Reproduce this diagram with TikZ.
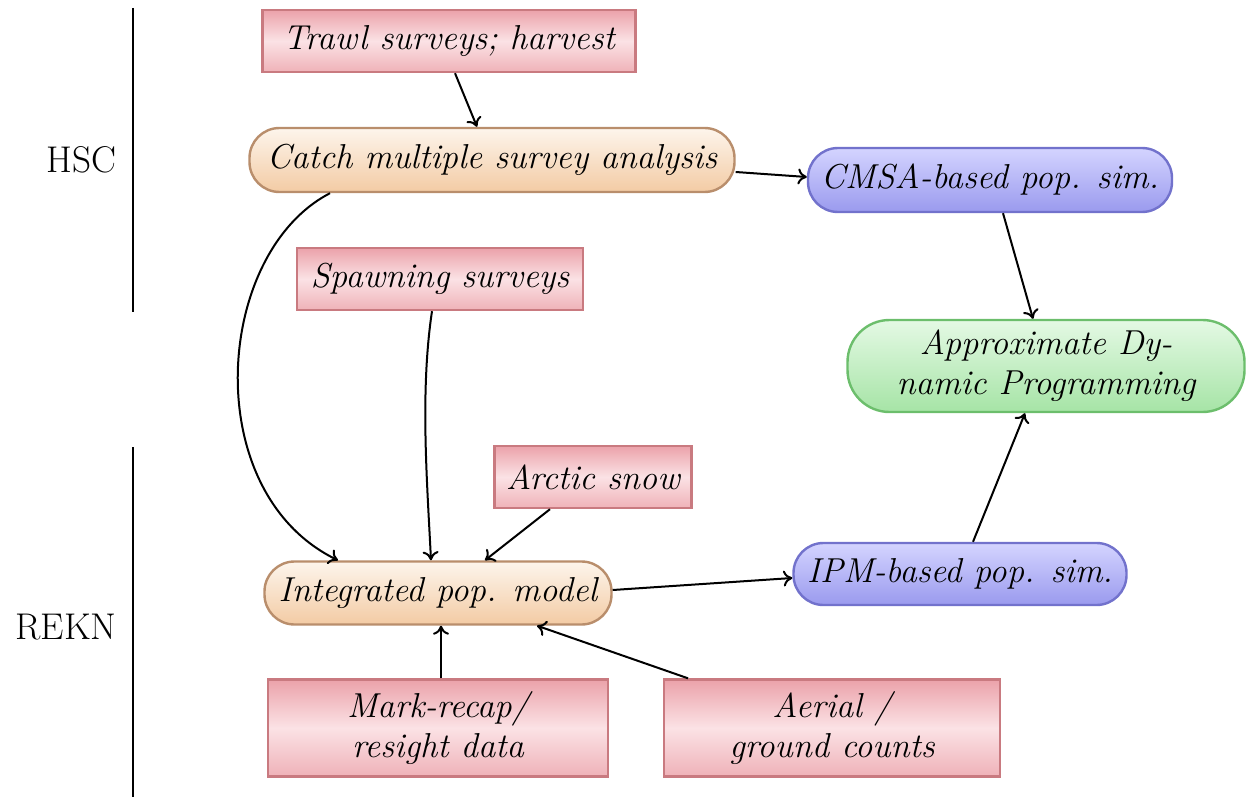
\documentclass[tikz,border=0pt]{standalone}
\usetikzlibrary{arrows.meta,shapes.misc}
\definecolor{redB}{HTML}{C97A80}
\definecolor{redT}{HTML}{EBA2AA}
\definecolor{redM}{HTML}{FBE2E5}
\definecolor{redL}{HTML}{EFB2B8}
\definecolor{orB}{HTML}{B98E6C}
\definecolor{orT}{HTML}{FDF5EC}
\definecolor{orL}{HTML}{F3CBA4}
\definecolor{blB}{HTML}{7272CC}
\definecolor{blT}{HTML}{D4D4FF}
\definecolor{blL}{HTML}{9A9AEE}
\definecolor{grB}{HTML}{6CBE6C}
\definecolor{grT}{HTML}{E4F9E4}
\definecolor{grL}{HTML}{A6E4A6}
\tikzset{
  every node/.style={font=\fontsize{17.3}{20}\selectfont\itshape, inner sep=0pt, align=center},
  databox/.style={rectangle, draw=redB, line width=1.2pt, top color=redT, bottom color=redL, middle color=redM},
  modelbox/.style={rectangle, rounded corners=15pt, draw=orB, line width=1.2pt, top color=orT, bottom color=orL},
  simbox/.style={rectangle, rounded corners=15pt, draw=blB, line width=1.2pt, top color=blT, bottom color=blL},
  adpbox/.style={rectangle, rounded corners=21pt, draw=grB, line width=1.2pt, top color=grT, bottom color=grL},
  grp/.style={font=\fontsize{18.6}{22}\selectfont\upshape, anchor=east},
  arr/.style={-{To[length=4.5pt,width=8pt]}, line width=1pt},
  sep/.style={line width=1.2pt}
}
\begin{document}
\begin{tikzpicture}[x=0.5pt,y=-0.5pt]
\useasboundingbox (0,0) rectangle (1247,797);
\node[databox, minimum width=186.5pt, minimum height=31pt] (trawl) at (449,41) {Trawl surveys; harvest};
\node[modelbox, minimum width=242.5pt, minimum height=32pt] (catch) at (492,160) {Catch multiple survey analysis};
\node[simbox, minimum width=182pt, minimum height=32pt] (cmsa) at (990,180) {CMSA-based pop. sim.};
\node[databox, minimum width=143pt, minimum height=31pt] (spawn) at (440,279) {Spawning surveys};
\node[adpbox, minimum width=198.5pt, minimum height=46pt] (adp) at (1046,366) {Approximate Dy-\\namic Programming};
\node[databox, minimum width=98.5pt, minimum height=31pt] (arctic) at (593,477) {Arctic snow};
\node[modelbox, minimum width=173.5pt, minimum height=31.5pt] (integ) at (438,593) {Integrated pop. model};
\node[simbox, minimum width=166.5pt, minimum height=31pt] (ipmsim) at (960,574) {IPM-based pop. sim.};
\node[databox, minimum width=170pt, minimum height=48.5pt] (mark) at (438,728) {Mark-recap/\\resight data};
\node[databox, minimum width=168pt, minimum height=48.5pt] (aerial) at (832,728) {Aerial /\\ground counts};

\node[grp] (hsc) at (117,160) {HSC};
\node[grp] (rekn) at (117,627) {REKN};
\coordinate (h1) at (133,8);
\coordinate (h2) at (133,312);
\coordinate (r1) at (133,447);
\coordinate (r2) at (133,797);
\draw[sep] (h1) -- (h2);
\draw[sep] (r1) -- (r2);

\draw[arr] ([xshift=3pt]trawl.south) -- ([xshift=-7.5pt]catch.north);
\draw[arr] ([yshift=-6pt]catch.east) -- ([yshift=1.5pt]cmsa.west);
\draw[arr] ([xshift=6.5pt]cmsa.south) -- ([xshift=-6.5pt]adp.north);
\draw[arr] ([xshift=6.5pt]ipmsim.north) -- ([xshift=-10.5pt]adp.south);
\draw[arr] ([yshift=1.5pt]integ.east) -- ([yshift=-2pt]ipmsim.west);
\draw[arr] ([xshift=-81pt]catch.south) .. controls +(-58pt,-30pt) and +(-70pt,34pt) .. ([xshift=-50pt]integ.north);
\draw[arr] ([xshift=-4pt]spawn.south) .. controls +(-6pt,-40pt) and +(-2pt,40pt) .. ([xshift=-3.5pt]integ.north);
\draw[arr] ([xshift=-21.5pt]arctic.south) -- ([xshift=23.5pt]integ.north);
\draw[arr] ([xshift=1.5pt]mark.north) -- ([xshift=1.5pt]integ.south);
\draw[arr] ([xshift=-72pt]aerial.north) -- ([xshift=49.5pt]integ.south);
\end{tikzpicture}
\end{document}
